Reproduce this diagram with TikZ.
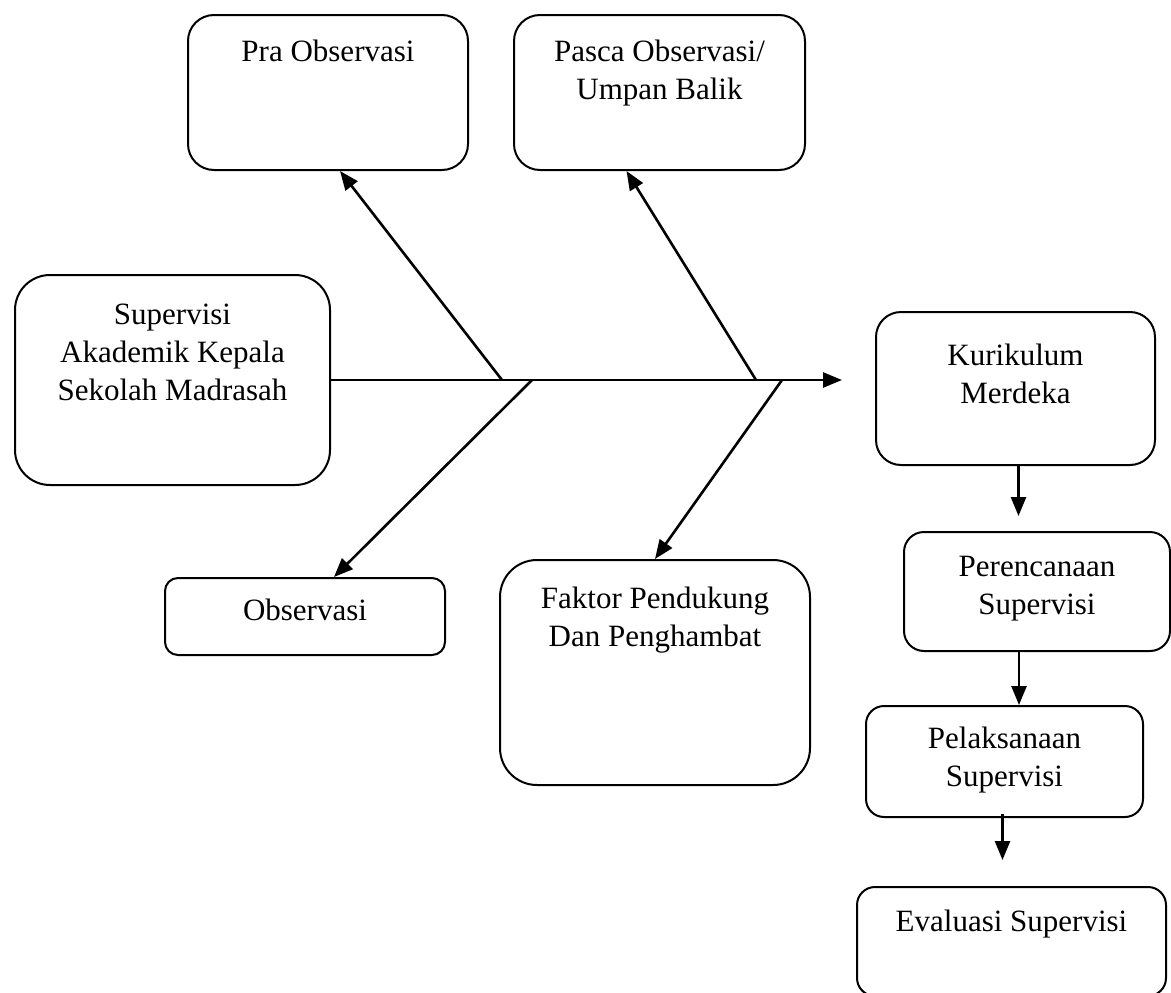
\documentclass[tikz,border=0pt]{standalone}
\usepackage{fontspec}
\setmainfont{Liberation Serif}
\usetikzlibrary{arrows.meta, positioning}

\tikzset{
    box/.style={draw, line width=2pt, rounded corners=#1, inner sep=0pt},
    box/.default=26pt,
    txt/.style={align=center, inner sep=0pt, font=\fontsize{31}{38}\selectfont},
}

\begin{document}
\begin{tikzpicture}[x=1pt, y=-1pt, >={Triangle[length=19pt, width=15pt]}, line width=2.6pt]
        \useasboundingbox (0,0) rectangle (1171,993);

        % boxes
        \node[box=26pt, minimum width=280pt, minimum height=155pt] (pra) at (328,92.5) {};
        \node[box=26pt, minimum width=291pt, minimum height=155pt] (pasca) at (659.5,92.5) {};
        \node[box=35pt, minimum width=315pt, minimum height=210pt] (sup) at (172.5,380) {};
        \node[box=25pt, minimum width=279pt, minimum height=153pt] (kur) at (1015.5,388.5) {};
        \node[box=13pt, minimum width=280pt, minimum height=77pt] (obs) at (305,616.5) {};
        \node[box=37pt, minimum width=310pt, minimum height=225pt] (fak) at (655,672.5) {};
        \node[box=20pt, minimum width=266pt, minimum height=119pt] (per) at (1037,591.5) {};
        \node[box=18pt, minimum width=277pt, minimum height=111pt] (pel) at (1004.5,761.5) {};
        \node[box=18pt, minimum width=309pt, minimum height=109pt] (eva) at (1011.5,941.5) {};

        % texts
        \node[txt, below=25pt of pra.north] (pra-t) {Pra Observasi};
        \node[txt, below=25pt of pasca.north] (pasca-t) {Pasca Observasi/\\Umpan Balik};
        \node[txt, below=29pt of sup.north] (sup-t) {Supervisi\\Akademik Kepala\\Sekolah Madrasah};
        \node[txt, below=32pt of kur.north] (kur-t) {Kurikulum\\Merdeka};
        \node[txt, below=21pt of obs.north] (obs-t) {Observasi};
        \node[txt, below=27pt of fak.north] (fak-t) {Faktor Pendukung\\Dan Penghambat};
        \node[txt, below=24pt of per.north] (per-t) {Perencanaan\\Supervisi};
        \node[txt, below=21pt of pel.north] (pel-t) {Pelaksanaan\\Supervisi};
        \node[txt, below=23pt of eva.north] (eva-t) {Evaluasi Supervisi};

        % spine
        \coordinate (head) at (842,380);
        \coordinate (j1) at (502,380);
        \coordinate (j2) at (532,380);
        \coordinate (j3) at (756,380);
        \coordinate (j4) at (782,380);

        \draw[->] (sup.east) -- (head);

        %Draw diagonal Arrows
        \draw[->] (j1) -- ([xshift=12pt]pra.south);
        \draw[->] (j3) -- ([xshift=-33pt]pasca.south);
        \draw[->] (j2) -- ([xshift=29pt]obs.north);
        \draw[->] (j4) -- (fak.north);

        % Draw Vertical Arrows
        \draw[->, shorten >=15pt] ([xshift=3pt]kur.south) -- ([xshift=3pt]kur.south |- per.north);
        \draw[->] ([xshift=-18pt]per.south) -- ([xshift=-18pt]per.south |- pel.north);
        \draw[->, shorten >=26pt, shorten <=-4pt] ([xshift=-2pt]pel.south) -- ([xshift=-2pt]pel.south |- eva.north);

    \end{tikzpicture}
\end{document}
